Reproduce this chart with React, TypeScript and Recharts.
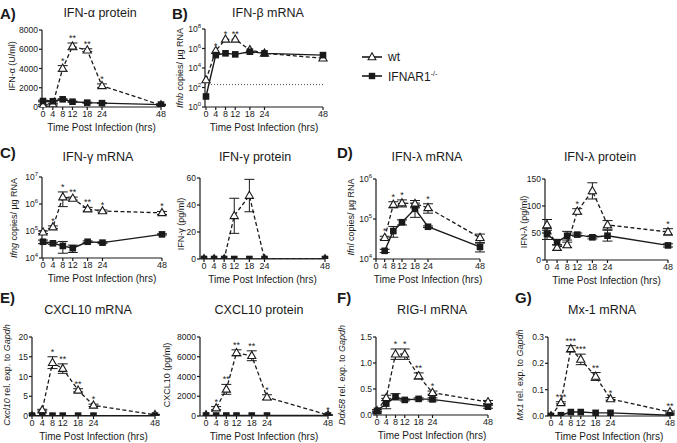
import React from "react";
import { LineChart, Line, XAxis, YAxis, ErrorBar, ReferenceLine } from "recharts";

const FONT = '"Liberation Sans", Arial, Helvetica, sans-serif';
const INK = "#1a1a1a";

const hours = [0, 4, 8, 12, 18, 24, 48];
const hoursNoZero = [4, 8, 12, 18, 24, 48];
const xTicks = [0, 4, 8, 12, 18, 24, 48];

// A) IFN-a protein (U/ml)
const ifnaWt = [150, 300, 4000, 6300, 5900, 2200, 200];
const ifnaWtErr = [80, 80, 300, 350, 150, 200, 60];
const ifnaKo = [620, 600, 800, 550, 450, 400, 250];
const ifnaKoErr = [80, 60, 60, 60, 50, 50, 40];
const ifnaStars = ["", "", "*", "**", "**", "*", ""];

// B) IFN-b mRNA (copies / ug RNA)
const ifnbWt = [600, 6e5, 8.7e6, 8.7e6, 7e5, 3.2e5, 1e5];
const ifnbWtErr = [0, 0, 0, 0, 0, 0, 0];
const ifnbKo = [12, 2.1e5, 3.2e5, 2.5e5, 4.7e5, 3.2e5, 2.1e5];
const ifnbKoErr = [0, 0, 0, 0, 0, 0, 0];
const ifnbStars = ["", "*", "*", "**", "", "", ""];
const ifnbLimit = 200;

// C) IFN-g mRNA
const ifngWt = [9e4, 1.4e5, 1.8e6, 1.6e6, 6.5e5, 5.5e5, 4.7e5];
const ifngWtErr = [1e4, 1.5e4, 1e6, 2e5, 1e5, 5e4, 6e4];
const ifngKo = [4e4, 3.5e4, 2.8e4, 2.3e4, 4e4, 3.7e4, 7.5e4];
const ifngKoErr = [6e3, 3e3, 1.3e4, 7e3, 3e3, 3e3, 4e3];
const ifngStars = ["", "*", "*", "**", "**", "*", "*"];

// C) IFN-g protein (pg/ml)
const ifngProtWt = [0, 0, 0, 32, 47, 0, 0];
const ifngProtWtErr = [0, 0, 0, 13, 12, 0, 0];
const ifngProtKo = [0, 0, 0, 0, 0, 0, 0];
const ifngProtKoErr = [0, 0, 0, 0, 0, 0, 0];
const ifngProtStars = ["", "", "", "", "", "", ""];

// D) IFN-l mRNA
const ifnlWt = [3.4e4, 2.3e5, 2.5e5, 2.4e5, 1.9e5, 3.4e4];
const ifnlWtErr = [3e3, 4e4, 5e4, 5e4, 5e4, 8e3];
const ifnlKo = [1.6e4, 5e4, 8.3e4, 1.8e5, 6.4e4, 2e4];
const ifnlKoErr = [1.5e3, 1.5e4, 1.2e4, 7e4, 3e3, 5e3];
const ifnlStars = ["*", "*", "*", "", "*", ""];

// D) IFN-l protein (pg/ml)
const ifnlProtWt = [65, 23, 28, 90, 128, 65, 52];
const ifnlProtWtErr = [10, 5, 5, 5, 15, 8, 6];
const ifnlProtKo = [48, 33, 45, 47, 42, 45, 27];
const ifnlProtKoErr = [10, 5, 8, 3, 3, 10, 3];
const ifnlProtStars = ["", "", "", "*", "**", "", "*"];

// E) CXCL10 mRNA
const cxclWt = [0, 1.5, 13.5, 12, 6.5, 2.7, 0.3];
const cxclWtErr = [0, 0.2, 1.5, 1.2, 0.4, 0.3, 0.1];
const cxclKo = [0.1, 0.1, 0.1, 0.1, 0.1, 0.1, 0.1];
const cxclKoErr = [0, 0, 0, 0, 0, 0, 0];
const cxclStars = ["", "", "*", "**", "**", "*", ""];

// E) CXCL10 protein (pg/ml)
const cxclProtWt = [100, 800, 2700, 6400, 6100, 1900, 100];
const cxclProtWtErr = [0, 150, 500, 300, 500, 250, 30];
const cxclProtKo = [50, 50, 50, 50, 50, 50, 50];
const cxclProtKoErr = [0, 0, 0, 0, 0, 0, 0];
const cxclProtStars = ["", "*", "**", "**", "**", "*", "*"];

// F) RIG-I mRNA
const rigWt = [0.08, 0.33, 1.17, 1.17, 0.75, 0.43, 0.25];
const rigWtErr = [0.02, 0.05, 0.1, 0.1, 0.06, 0.03, 0.03];
const rigKo = [0.08, 0.22, 0.35, 0.29, 0.31, 0.3, 0.16];
const rigKoErr = [0.02, 0.1, 0.06, 0.02, 0.02, 0.03, 0.03];
const rigStars = ["", "", "*", "*", "**", "*", ""];

// G) Mx-1 mRNA
const mxWt = [0, 0.05, 0.255, 0.215, 0.15, 0.065, 0.015];
const mxWtErr = [0, 0.004, 0.012, 0.02, 0.015, 0.005, 0.004];
const mxKo = [0, 0.003, 0.015, 0.015, 0.012, 0.012, 0.003];
const mxKoErr = [0, 0, 0, 0, 0, 0, 0];
const mxStars = ["", "***", "***", "***", "**", "*", "**"];

const triDot = (p: any) => {
  const { cx, cy, index } = p;
  if (cx == null || cy == null) return <g key={`t${index}`} />;
  return (
    <path
      key={`t${index}`}
      d={`M${cx},${cy - 4.4}L${cx + 4.1},${cy + 2.8}L${cx - 4.1},${cy + 2.8}Z`}
      fill="#fff"
      stroke={INK}
      strokeWidth={1.1}
    />
  );
};

const sqDot = (p: any) => {
  const { cx, cy, index } = p;
  if (cx == null || cy == null) return <g key={`q${index}`} />;
  return <rect key={`q${index}`} x={cx - 3.3} y={cy - 3.3} width={6.6} height={6.6} fill={INK} />;
};

const starDot = (p: any) => {
  const { cx, cy, index, payload } = p;
  if (cx == null || cy == null || !payload || !payload.star) return <g key={`s${index}`} />;
  return (
    <text key={`s${index}`} x={cx} y={cy - 2} textAnchor="middle" fontSize={9} fontFamily={FONT} fill={INK}>
      {payload.star}
    </text>
  );
};

const LogTick = (p: any) => {
  const { x, y, payload } = p;
  const e = Math.round(Math.log10(payload.value));
  return (
    <text x={x} y={y + 3} textAnchor="end" fontSize={8.5} fontFamily={FONT} fill={INK}>
      10<tspan dy={-4} fontSize={6}>{e}</tspan>
    </text>
  );
};

type Box = { left: number; top: number; width: number; height: number };

function Panel(props: {
  box: Box;
  padLeft?: number;
  log?: boolean;
  yDomain: [number, number];
  yTicks: number[];
  yFmt?: (v: number) => string;
  x: number[];
  wt: number[];
  wtErr: number[];
  ko: number[];
  koErr: number[];
  stars: string[];
  refY?: number;
}) {
  const { box, padLeft = 0, log = false, yDomain, yTicks, yFmt, x, wt, wtErr, ko, koErr, stars, refY } = props;
  const ml = 34, mt = 14, mr = 10, mb = 32;
  const data = x.map((h, i) => ({
    h,
    wt: wt[i],
    wtErr: wtErr[i],
    ko: ko[i],
    koErr: koErr[i],
    starY: stars[i] ? wt[i] + wtErr[i] : null,
    star: stars[i],
  }));
  return (
    <div style={{ position: "absolute", left: box.left - ml, top: box.top - mt }}>
      <LineChart
        width={ml + box.width + mr}
        height={mt + box.height + mb}
        data={data}
        margin={{ top: mt, right: mr, left: 0, bottom: 0 }}
      >
        <XAxis
          dataKey="h"
          type="number"
          domain={[0, 48]}
          ticks={xTicks}
          interval={0}
          padding={{ left: padLeft, right: 0 }}
          height={mb}
          tick={{ fontSize: 9, fill: INK, fontFamily: FONT }}
          tickSize={3}
          tickMargin={1}
          stroke={INK}
          strokeWidth={1.2}
          label={{ value: "Time Post Infection (hrs)", position: "insideBottom", offset: 8, fontSize: 10, fill: INK, fontFamily: FONT }}
        />
        <YAxis
          width={ml}
          type="number"
          scale={log ? "log" : "linear"}
          domain={yDomain}
          ticks={yTicks}
          interval={0}
          allowDataOverflow
          tick={log ? <LogTick /> : { fontSize: 8.5, fill: INK, fontFamily: FONT }}
          tickFormatter={yFmt}
          tickSize={3}
          tickMargin={1}
          stroke={INK}
          strokeWidth={1.2}
        />
        {refY !== undefined && <ReferenceLine y={refY} stroke="#555" strokeDasharray="1 2" strokeWidth={1} />}
        <Line
          dataKey="wt"
          stroke={INK}
          strokeWidth={1.3}
          strokeDasharray="4 2.5"
          dot={triDot}
          activeDot={false}
          isAnimationActive={false}
        >
          <ErrorBar dataKey="wtErr" width={5} stroke={INK} strokeWidth={1} direction="y" />
        </Line>
        <Line dataKey="ko" stroke={INK} strokeWidth={1.4} dot={sqDot} activeDot={false} isAnimationActive={false}>
          <ErrorBar dataKey="koErr" width={5} stroke={INK} strokeWidth={1} direction="y" />
        </Line>
        <Line dataKey="starY" stroke="none" dot={starDot} activeDot={false} isAnimationActive={false} />
      </LineChart>
    </div>
  );
}

const abs = (left: number, top: number, extra: React.CSSProperties = {}): React.CSSProperties => ({
  position: "absolute",
  left,
  top,
  fontFamily: FONT,
  color: INK,
  whiteSpace: "nowrap",
  lineHeight: 1,
  ...extra,
});

function Title({ cx, cy, children }: { cx: number; cy: number; children: React.ReactNode }) {
  return <div style={abs(cx, cy, { fontSize: 12.5, transform: "translate(-50%, -50%)" })}>{children}</div>;
}

function Letter({ x, cy, children }: { x: number; cy: number; children: React.ReactNode }) {
  return <div style={abs(x, cy, { fontSize: 15, fontWeight: 700, transform: "translate(0, -50%)" })}>{children}</div>;
}

function YLabel({ cx, cy, children }: { cx: number; cy: number; children: React.ReactNode }) {
  return (
    <div style={abs(cx, cy, { fontSize: 9, transform: "translate(-50%, -50%) rotate(-90deg)" })}>{children}</div>
  );
}

const fmt0 = (v: number) => String(v);
const fmt1 = (v: number) => v.toFixed(1);

export default function App() {
  return (
    <div style={{ position: "absolute", left: 0, top: 0, width: 677, height: 443, background: "#fff", overflow: "hidden" }}>
      {/* row 1 */}
      <Letter x={0} cy={13}>A)</Letter>
      <Title cx={100} cy={13}>IFN-α protein</Title>
      <YLabel cx={12} cy={66}>IFN-α (U/ml)</YLabel>
      <Panel
        box={{ left: 42, top: 30, width: 119, height: 77 }}
        padLeft={1}
        yDomain={[0, 8000]}
        yTicks={[0, 2000, 4000, 6000, 8000]}
        yFmt={fmt0}
        x={hours}
        wt={ifnaWt}
        wtErr={ifnaWtErr}
        ko={ifnaKo}
        koErr={ifnaKoErr}
        stars={ifnaStars}
      />

      <Letter x={172} cy={13}>B)</Letter>
      <Title cx={268} cy={13}>IFN-β mRNA</Title>
      <YLabel cx={180} cy={68}>
        <i>Ifnb</i> copies/ µg RNA
      </YLabel>
      <Panel
        box={{ left: 205, top: 29, width: 118, height: 78 }}
        padLeft={1}
        log
        yDomain={[1, 1e8]}
        yTicks={[1, 1e2, 1e4, 1e6, 1e8]}
        x={hours}
        wt={ifnbWt}
        wtErr={ifnbWtErr}
        ko={ifnbKo}
        koErr={ifnbKoErr}
        stars={ifnbStars}
        refY={ifnbLimit}
      />

      {/* legend */}
      <svg style={{ position: "absolute", left: 360, top: 48 }} width={24} height={36}>
        <line x1={2} y1={9} x2={22} y2={9} stroke={INK} strokeWidth={1.6} />
        <path d="M12,4.8L15.9,11.7L8.1,11.7Z" fill="#fff" stroke={INK} strokeWidth={1.1} />
        <line x1={2} y1={28} x2={22} y2={28} stroke={INK} strokeWidth={1.6} />
        <rect x={8.8} y={24.8} width={6.4} height={6.4} fill={INK} />
      </svg>
      <div style={abs(388, 57, { fontSize: 12, transform: "translate(0, -50%)" })}>wt</div>
      <div style={abs(388, 76, { fontSize: 12, transform: "translate(0, -50%)" })}>
        IFNAR1<sup style={{ fontSize: 7 }}>-/-</sup>
      </div>

      {/* row 2 */}
      <Letter x={0} cy={152}>C)</Letter>
      <Title cx={98} cy={157}>IFN-γ mRNA</Title>
      <YLabel cx={14} cy={218}>
        <i>Ifng</i> copies/ µg RNA
      </YLabel>
      <Panel
        box={{ left: 42, top: 177, width: 120, height: 81 }}
        padLeft={1}
        log
        yDomain={[1e4, 1e7]}
        yTicks={[1e4, 1e5, 1e6, 1e7]}
        x={hours}
        wt={ifngWt}
        wtErr={ifngWtErr}
        ko={ifngKo}
        koErr={ifngKoErr}
        stars={ifngStars}
      />

      <Title cx={255} cy={157}>IFN-γ protein</Title>
      <YLabel cx={181} cy={224}>IFN-γ (pg/ml)</YLabel>
      <Panel
        box={{ left: 200, top: 178, width: 125, height: 81 }}
        padLeft={4}
        yDomain={[0, 60]}
        yTicks={[0, 20, 40, 60]}
        yFmt={fmt0}
        x={hours}
        wt={ifngProtWt}
        wtErr={ifngProtWtErr}
        ko={ifngProtKo}
        koErr={ifngProtKoErr}
        stars={ifngProtStars}
      />

      <Letter x={337} cy={152}>D)</Letter>
      <Title cx={427} cy={157}>IFN-λ mRNA</Title>
      <YLabel cx={351} cy={217}>
        <i>Ifnl</i> copies/ µg RNA
      </YLabel>
      <Panel
        box={{ left: 376, top: 179, width: 104, height: 80 }}
        log
        yDomain={[1e4, 1e6]}
        yTicks={[1e4, 1e5, 1e6]}
        x={hoursNoZero}
        wt={ifnlWt}
        wtErr={ifnlWtErr}
        ko={ifnlKo}
        koErr={ifnlKoErr}
        stars={ifnlStars}
      />

      <Title cx={600} cy={157}>IFN-λ protein</Title>
      <YLabel cx={524} cy={222}>IFN-λ (pg/ml)</YLabel>
      <Panel
        box={{ left: 545, top: 179, width: 123, height: 81 }}
        padLeft={2}
        yDomain={[0, 150]}
        yTicks={[0, 50, 100, 150]}
        yFmt={fmt0}
        x={hours}
        wt={ifnlProtWt}
        wtErr={ifnlProtWtErr}
        ko={ifnlProtKo}
        koErr={ifnlProtKoErr}
        stars={ifnlProtStars}
      />

      {/* row 3 */}
      <Letter x={0} cy={297}>E)</Letter>
      <Title cx={88} cy={310}>CXCL10 mRNA</Title>
      <YLabel cx={7} cy={375}>
        <i>Cxcl10</i> rel. exp. to <i>Gapdh</i>
      </YLabel>
      <Panel
        box={{ left: 32, top: 337, width: 123, height: 79 }}
        yDomain={[0, 20]}
        yTicks={[0, 5, 10, 15, 20]}
        yFmt={fmt0}
        x={hours}
        wt={cxclWt}
        wtErr={cxclWtErr}
        ko={cxclKo}
        koErr={cxclKoErr}
        stars={cxclStars}
      />

      <Title cx={259} cy={310}>CXCL10 protein</Title>
      <YLabel cx={167} cy={375}>CXCL10 (pg/ml)</YLabel>
      <Panel
        box={{ left: 200, top: 337, width: 128, height: 79 }}
        padLeft={6}
        yDomain={[0, 8000]}
        yTicks={[0, 2000, 4000, 6000, 8000]}
        yFmt={fmt0}
        x={hours}
        wt={cxclProtWt}
        wtErr={cxclProtWtErr}
        ko={cxclProtKo}
        koErr={cxclProtKoErr}
        stars={cxclProtStars}
      />

      <Letter x={337} cy={297}>F)</Letter>
      <Title cx={432} cy={310}>RIG-I mRNA</Title>
      <YLabel cx={342} cy={375}>
        <i>Ddx58</i> rel. exp. to <i>Gapdh</i>
      </YLabel>
      <Panel
        box={{ left: 376, top: 337, width: 112, height: 78 }}
        padLeft={1}
        yDomain={[0, 1.5]}
        yTicks={[0, 0.5, 1, 1.5]}
        yFmt={fmt1}
        x={hours}
        wt={rigWt}
        wtErr={rigWtErr}
        ko={rigKo}
        koErr={rigKoErr}
        stars={rigStars}
      />

      <Letter x={515} cy={297}>G)</Letter>
      <Title cx={602} cy={310}>Mx-1 mRNA</Title>
      <YLabel cx={520} cy={375}>
        <i>Mx1</i> rel. exp. to <i>Gapdh</i>
      </YLabel>
      <Panel
        box={{ left: 548, top: 337, width: 122, height: 79 }}
        padLeft={3}
        yDomain={[0, 0.3]}
        yTicks={[0, 0.1, 0.2, 0.3]}
        yFmt={fmt1}
        x={hours}
        wt={mxWt}
        wtErr={mxWtErr}
        ko={mxKo}
        koErr={mxKoErr}
        stars={mxStars}
      />
    </div>
  );
}
